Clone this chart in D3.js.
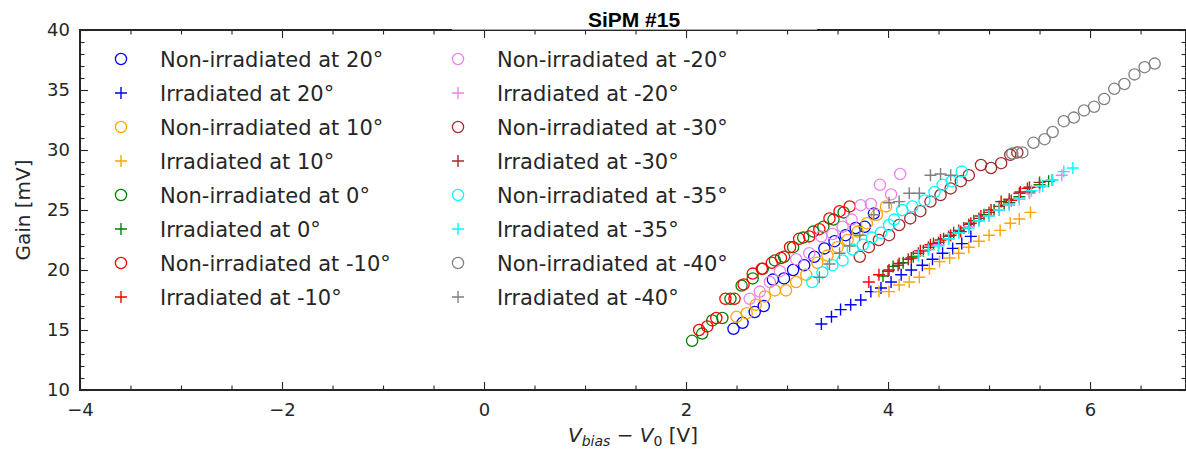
<!DOCTYPE html>
<html>
<head>
<meta charset="utf-8">
<script src="https://cdn.jsdelivr.net/npm/d3@7"></script>
<style>
  body { margin: 0; background: #fff; }
  text { font-family: "DejaVu Sans", sans-serif; fill: #262626; }
</style>
</head>
<body>
<div id="chart"></div>
<script>
// temperatures and their colours
const temps = ["20", "10", "0", "-10", "-20", "-30", "-35", "-40"];
const colors = ["#0000ff", "#ffa500", "#008000", "#ff0000", "#ee82ee", "#a52a2a", "#00ffff", "#808080"];

// non-irradiated gain curves, [V_bias - V_0, gain in mV]
const nonIrr20 = [[2.47,15.1],[2.56,15.6],[2.68,16.5],[2.77,17.0],[2.86,19.2],[2.97,19.3],[3.06,20.0],[3.17,20.4],[3.27,21.1],[3.37,21.8],[3.47,22.4],[3.58,22.9],[3.68,23.5],[3.77,23.6],[3.86,24.7]];
const nonIrr10 = [[2.50,16.1],[2.60,16.4],[2.69,17.1],[2.78,17.8],[2.88,18.3],[2.99,18.3],[3.09,19.0],[3.19,19.6],[3.30,20.6],[3.40,21.2],[3.50,21.9],[3.60,22.5],[3.70,23.2],[3.79,23.9],[3.89,24.6],[3.98,25.3]];
const nonIrr0 = [[2.06,14.1],[2.16,14.7],[2.26,15.8],[2.36,16.0],[2.44,17.6],[2.55,18.7],[2.66,19.3],[2.76,20.1],[2.88,20.8],[2.97,21.1],[3.06,21.9],[3.16,22.7],[3.26,23.2],[3.36,23.6],[3.46,24.2],[3.56,24.8]];
const nonIrr_10 = [[2.13,15.0],[2.21,15.3],[2.30,16.0],[2.39,17.6],[2.48,17.6],[2.57,18.8],[2.66,19.7],[2.75,20.1],[2.85,20.6],[2.94,21.0],[3.03,21.9],[3.12,22.6],[3.22,22.8],[3.32,23.4],[3.42,24.3],[3.52,24.9],[3.62,25.3]];
const nonIrr_20 = [[2.63,17.6],[2.73,18.2],[2.83,19.0],[2.93,19.9],[3.09,20.9],[3.22,21.4],[3.34,22.8],[3.45,23.0],[3.55,23.6],[3.64,24.2],[3.73,25.4],[3.83,25.5],[3.92,27.1],[4.03,26.3],[4.12,28.0]];
const nonIrr_30 = [[3.72,21.1],[3.81,21.9],[3.91,22.5],[4.01,22.9],[4.11,23.75],[4.22,24.3],[4.32,24.9],[4.42,25.7],[4.52,26.25],[4.62,26.8],[4.72,27.4],[4.80,27.9],[4.92,28.75],[5.02,28.5],[5.12,28.9],[5.21,29.6],[5.28,29.8]];
const nonIrr_35 = [[3.25,19.0],[3.35,19.8],[3.45,20.4],[3.55,20.8],[3.65,21.7],[3.75,22.1],[3.84,22.7],[3.93,23.1],[4.01,23.75],[4.06,24.2],[4.14,25.0],[4.24,25.3],[4.36,25.8],[4.46,26.5],[4.54,27.1],[4.63,27.4],[4.73,28.2]];
const nonIrr_40 = [[5.23,29.7],[5.33,29.8],[5.44,30.6],[5.55,30.9],[5.63,31.5],[5.74,32.4],[5.84,32.7],[5.94,33.3],[6.04,33.6],[6.14,34.25],[6.24,35.1],[6.34,35.5],[6.44,36.3],[6.54,36.9],[6.64,37.2]];

// irradiated gain curves
const irr20 = [[3.34,15.5],[3.44,16.1],[3.53,16.7],[3.63,17.1],[3.73,17.5],[3.83,18.2],[3.93,18.5],[4.03,19.0],[4.13,19.6],[4.23,20.0],[4.34,20.4],[4.44,20.9],[4.54,21.4],[4.64,21.8],[4.73,22.2],[4.82,22.8]];
const irr10 = [[3.91,18.2],[4.01,18.2],[4.11,18.75],[4.21,19.0],[4.31,19.4],[4.41,20.1],[4.51,20.7],[4.61,21.0],[4.70,21.4],[4.80,21.9],[4.90,22.4],[5.00,22.9],[5.11,23.3],[5.21,23.9],[5.30,24.25],[5.41,24.8]];
const irr0 = [[3.95,19.5],[4.05,20.3],[4.15,20.6],[4.25,21.1],[4.35,21.6],[4.45,22.2],[4.55,22.6],[4.65,23.1],[4.75,23.5],[4.85,24.1],[4.95,24.6],[5.05,25.0],[5.15,25.4],[5.20,25.6],[5.30,26.1],[5.40,26.5],[5.50,27.1],[5.59,27.4]];
const irr_10 = [[3.81,19.0],[3.91,19.6],[4.01,20.0],[4.11,20.55],[4.23,21.0],[4.32,21.6],[4.42,22.1],[4.52,22.5],[4.62,22.9],[4.72,23.2],[4.82,23.9],[4.92,24.5],[5.02,25.0],[5.12,25.7],[5.22,25.8],[5.31,26.5],[5.38,26.8]];
const irr_20 = [[4.40,21.7],[4.50,22.1],[4.60,22.6],[4.70,23.1],[4.80,23.6],[4.90,24.1],[5.00,24.5],[5.10,25.0],[5.20,25.5],[5.30,25.9],[5.40,26.4],[5.50,26.9],[5.62,27.5],[5.72,27.9]];
const irr_30 = [[4.00,19.9],[4.10,20.4],[4.20,20.9],[4.30,21.4],[4.40,21.9],[4.50,22.3],[4.60,22.8],[4.70,23.3],[4.80,23.8],[4.90,24.3],[5.00,24.8],[5.10,25.3],[5.20,25.9],[5.30,26.4],[5.40,26.9],[5.50,27.3]];
const irr_35 = [[4.30,21.2],[4.40,21.7],[4.50,22.0],[4.60,22.6],[4.70,23.1],[4.80,23.5],[4.90,24.1],[5.00,24.5],[5.10,25.0],[5.20,25.4],[5.30,25.9],[5.42,26.6],[5.53,27.0],[5.63,27.5],[5.74,28.2],[5.83,28.5]];
const irr_40 = [[3.32,19.4],[3.42,20.5],[3.52,21.4],[3.62,22.0],[3.72,22.9],[3.86,24.6],[4.01,25.6],[4.11,25.7],[4.21,26.4],[4.31,26.4],[4.42,27.9],[4.52,28.0],[4.62,27.9]];

const nonIrrData = [nonIrr20, nonIrr10, nonIrr0, nonIrr_10, nonIrr_20, nonIrr_30, nonIrr_35, nonIrr_40];
const irrData = [irr20, irr10, irr0, irr_10, irr_20, irr_30, irr_35, irr_40];

// axis ticks
const xTicks = [-4, -2, 0, 2, 4, 6];
const yTicks = [10, 15, 20, 25, 30, 35, 40];

const width = 1186, height = 451;
const plot = {left: 80, right: 1186, top: 30, bottom: 390};

let svg = d3.select("#chart")
    .append("svg")
    .attr("width", width)
    .attr("height", height);

let x = d3.scaleLinear().domain([-4, 6.95]).range([plot.left, plot.right]);
let y = d3.scaleLinear().domain([10, 40]).range([plot.bottom, plot.top]);

// build series list in plotting order: non-irradiated then irradiated per temperature
let series = [];
temps.forEach((t, i) => {
    series.push({label: `Non-irradiated at ${t}°`, color: colors[i], marker: "circle", data: nonIrrData[i]});
    series.push({label: `Irradiated at ${t}°`, color: colors[i], marker: "plus", data: irrData[i]});
});

function drawMarker(g, s, cx, cy) {
    if (s.marker === "circle") {
        g.append("circle")
            .attr("cx", cx).attr("cy", cy).attr("r", 5.6)
            .attr("fill", "none")
            .attr("stroke", s.color)
            .attr("stroke-width", 1.3);
    } else {
        g.append("path")
            .attr("d", `M${cx - 6},${cy}H${cx + 6}M${cx},${cy - 6}V${cy + 6}`)
            .attr("fill", "none")
            .attr("stroke", s.color)
            .attr("stroke-width", 1.4);
    }
}

// data points
let pts = svg.append("g");
series.forEach(s => {
    let g = pts.append("g");
    s.data.forEach(d => drawMarker(g, s, x(d[0]), y(d[1])));
});

// ticks pointing inward on all four sides
const xMinor = d3.range(-4, 7, 0.5).filter(v => !xTicks.includes(v));
const yMinor = d3.range(10, 41, 1).filter(v => !yTicks.includes(v));

function addAxis(axisFn, scale, pos, ticks, size, labels, pad) {
    let g = svg.append("g")
        .attr("transform", pos)
        .call(axisFn(scale).tickValues(ticks).tickSize(-size).tickSizeOuter(0)
            .tickPadding(pad || 0)
            .tickFormat(labels ? d3.format("") : ""));
    g.select(".domain").remove();
    g.selectAll("line").attr("stroke", "#262626").attr("stroke-width", 1.1);
    g.selectAll("text").attr("font-size", 18).attr("fill", "#262626")
        .attr("font-family", "DejaVu Sans, sans-serif");
    return g;
}

addAxis(d3.axisBottom, x, `translate(0,${plot.bottom})`, xTicks, 8, true, 13.5);
addAxis(d3.axisBottom, x, `translate(0,${plot.bottom})`, xMinor, 4.5, false);
addAxis(d3.axisTop, x, `translate(0,${plot.top})`, xTicks, 8, false);
addAxis(d3.axisTop, x, `translate(0,${plot.top})`, xMinor, 4.5, false);
addAxis(d3.axisLeft, y, `translate(${plot.left},0)`, yTicks, 8, true, 10);
addAxis(d3.axisLeft, y, `translate(${plot.left},0)`, yMinor, 4.5, false);
addAxis(d3.axisRight, y, `translate(${plot.right},0)`, yTicks, 8, false);
addAxis(d3.axisRight, y, `translate(${plot.right},0)`, yMinor, 4.5, false);

// frame
svg.append("rect")
    .attr("x", plot.left).attr("y", plot.top)
    .attr("width", plot.right - plot.left).attr("height", plot.bottom - plot.top)
    .attr("fill", "none")
    .attr("stroke", "#262626")
    .attr("stroke-width", 2);

// legend, two columns of eight
let legend = svg.append("g");
series.forEach((s, i) => {
    let col = Math.floor(i / 8), row = i % 8;
    let mx = 121 + col * 337, my = 59 + row * 34;
    drawMarker(legend, s, mx, my);
    legend.append("text")
        .attr("x", mx + 39)
        .attr("y", my)
        .attr("dy", "0.36em")
        .attr("font-size", 21)
        .text(s.label);
});

// title with its white background over the top spine
svg.append("rect")
    .attr("x", 452).attr("y", 0)
    .attr("width", 365).attr("height", 29.6)
    .attr("fill", "#fff");
svg.append("text")
    .attr("x", (plot.left + plot.right) / 2 + 1)
    .attr("y", 26.5)
    .attr("text-anchor", "middle")
    .style("font-family", "'Liberation Sans', Arial, sans-serif")
    .style("font-weight", "bold")
    .style("font-size", "21px")
    .style("fill", "#000")
    .text("SiPM #15");

// y-axis label
svg.append("text")
    .attr("transform", `translate(30, ${(plot.top + plot.bottom) / 2}) rotate(-90)`)
    .attr("text-anchor", "middle")
    .attr("font-size", 20)
    .text("Gain [mV]");

// x-axis label
let xl = svg.append("text")
    .attr("x", (plot.left + plot.right) / 2)
    .attr("y", 442)
    .attr("text-anchor", "middle")
    .attr("font-size", 20);
xl.append("tspan").attr("font-style", "italic").text("V");
xl.append("tspan").attr("font-style", "italic").attr("font-size", 14).attr("dy", 4).text("bias");
xl.append("tspan").attr("dy", -4).text(" \u2212 ");
xl.append("tspan").attr("font-style", "italic").text("V");
xl.append("tspan").attr("font-size", 14).attr("dy", 4).text("0");
xl.append("tspan").attr("dy", -4).text(" [V]");
</script>
</body>
</html>
